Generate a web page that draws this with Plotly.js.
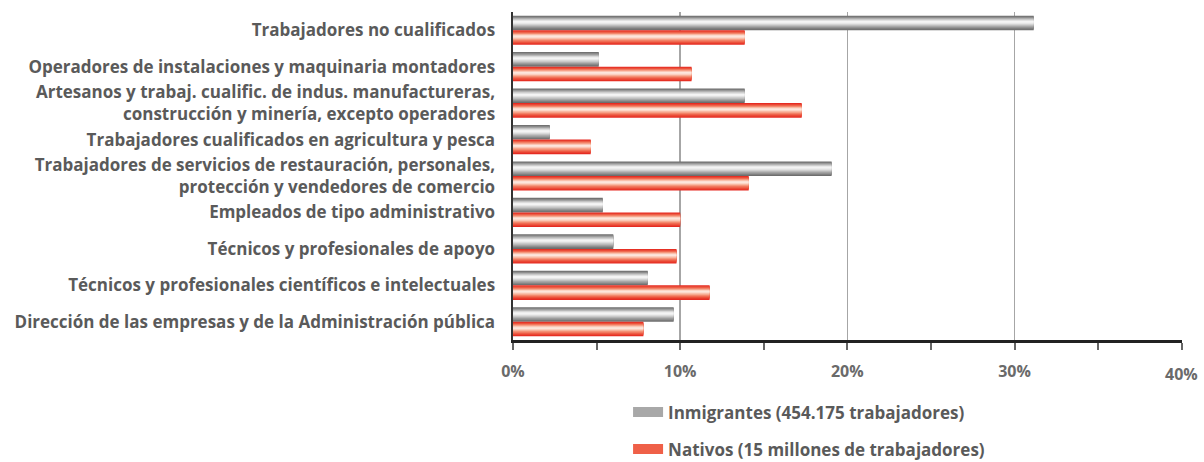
<!DOCTYPE html>
<html><head><meta charset="utf-8">
<script src="https://cdn.plot.ly/plotly-3.0.1.min.js"></script>
<style>html,body{margin:0;padding:0;background:#fff}</style>
</head><body>
<div id="chart" style="width:1204px;height:462px"></div>
<script>
const categories = [
  'Trabajadores no cualificados',
  'Operadores de instalaciones y maquinaria montadores',
  'Artesanos y trabaj. cualific. de indus. manufactureras,<br>construcción y minería, excepto operadores',
  'Trabajadores cualificados en agricultura y pesca',
  'Trabajadores de servicios de restauración, personales,<br>protección y vendedores de comercio',
  'Empleados de tipo administrativo',
  'Técnicos y profesionales de apoyo',
  'Técnicos y profesionales científicos e intelectuales',
  'Dirección de las empresas y de la Administración pública'
];
const inmigrantes = [31.15, 5.13, 13.86, 2.2, 19.06, 5.37, 6.0, 8.06, 9.61];
const nativos     = [13.86, 10.68, 17.27, 4.65, 14.1, 10.0, 9.78, 11.76, 7.8];
const seriesNames = ['Inmigrantes (454.175 trabajadores)', 'Nativos (15 millones de trabajadores)'];
const xTickVals = [0, 10, 20, 30, 40];
const xTickText = ['0%', '10%', '20%', '30%', ''];

const grayShades = ['#6e6e6e','#7f7f7f','#939393','#a8a8a8','#bebebe','#d3d3d3','#e6e6e6','#f4f4f4'];
const redShades  = ['#e52b22','#e9402f','#ed5741','#f07258','#f49074','#f7b099','#fbcfbf','#fde6dc'];

const BW = 0.4, HL = 0.42;
const traces = [];
function addSeries(vals, base, shades) {
  const N = shades.length;
  shades.forEach((c, i) => {
    const t = i / N;
    traces.push({
      type: 'bar', orientation: 'h',
      x: vals, y: categories,
      offset: base + BW * HL * t,
      width: BW * (1 - t),
      marker: {color: c, line: {width: 0}},
      showlegend: false, hoverinfo: 'skip'
    });
  });
}
addSeries(inmigrantes, -BW, grayShades);
addSeries(nativos, 0, redShades);

// legend entries
traces.push({type:'scatter', mode:'lines', x:[null], y:[null], name: seriesNames[0],
  legendgroup:'a', line:{color:'#a8a8a8', width:10}, hoverinfo:'skip'});
traces.push({type:'scatter', mode:'lines', x:[null], y:[null], name: seriesNames[1],
  legendgroup:'b', line:{color:'#ef6048', width:10}, hoverinfo:'skip'});

const labelFont = {family: 'Open Sans, sans-serif', size: 17, color: '#5a5a5a', weight: 'bold'};
const legendFont = {family: 'Open Sans, sans-serif', size: 17, color: '#5a5a5a', weight: 'bold'};
const tickFont = {family: 'Open Sans, sans-serif', size: 16, color: '#6a6a6a', weight: 'bold'};

const layout = {
  width: 1204, height: 462,
  margin: {l: 513, r: 22, t: 12, b: 122, autoexpand: false},
  paper_bgcolor: '#fff', plot_bgcolor: '#fff',
  barmode: 'overlay',
  showlegend: true,
  xaxis: {
    range: [0, 40.02],
    tickvals: xTickVals, ticktext: xTickText,
    showgrid: true, gridcolor: '#a6a6a6', gridwidth: 1.5,
    zeroline: false,
    showline: true, linecolor: '#222', linewidth: 2.5,
    ticks: 'outside', ticklen: 7, tickwidth: 2, tickcolor: '#666',
    minor: {tickvals: [5, 15, 25, 35], ticks: 'outside', ticklen: 7, tickwidth: 2, tickcolor: '#666', showgrid: false},
    ticklabelstandoff: 8,
    tickfont: tickFont, fixedrange: true, automargin: false
  },
  yaxis: {
    type: 'category', autorange: 'reversed',
    showgrid: false, zeroline: false,
    showline: true, linecolor: '#333', linewidth: 2.5,
    ticks: '', ticklabelstandoff: 12,
    tickfont: labelFont, fixedrange: true, automargin: false
  },
  legend: {
    orientation: 'v', x: 0.172, xanchor: 'left', y: -0.166, yanchor: 'top',
    font: legendFont, tracegroupgap: 12, bgcolor: 'rgba(0,0,0,0)'
  },
  annotations: [{
    x: 40, xref: 'x', y: -0.104, yref: 'paper', yanchor: 'middle', xanchor: 'center',
    text: '40%', showarrow: false, font: tickFont
  }]
};

Plotly.newPlot('chart', traces, layout, {displayModeBar: false, staticPlot: true});
</script>
</body></html>
